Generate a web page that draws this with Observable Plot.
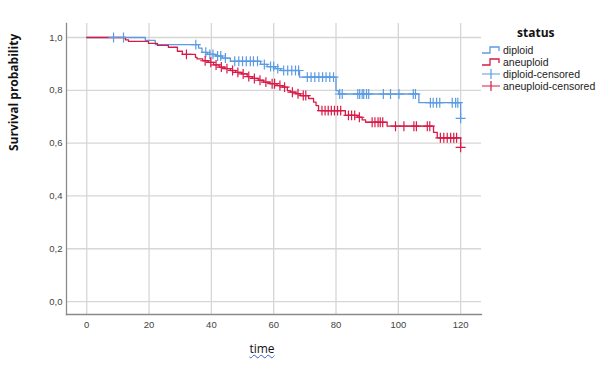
<!DOCTYPE html>
<html>
<head>
<meta charset="utf-8">
<script src="https://cdn.jsdelivr.net/npm/d3@7"></script>
<script src="https://cdn.jsdelivr.net/npm/@observablehq/plot@0.6"></script>
<style>
  html, body { margin: 0; padding: 0; background: #fff; }
  #wrap { position: relative; width: 609px; height: 372px; overflow: hidden; }
  #legend { position: absolute; left: 481px; top: 24px; font-family: "Liberation Sans", Arial, sans-serif; font-size: 10.5px; color: #222; }
  #legend .title { font-family: "Open Sans", sans-serif; font-weight: bold; font-size: 12px; margin-left: 36px; margin-bottom: 3px; color: #111; }
  #legend .row { display: flex; align-items: center; height: 12px; }
  #legend svg { margin-right: 2px; }
  #xtitle { position: absolute; left: 0; width: 524px; top: 340px; text-align: center; font-family: "Open Sans", sans-serif; font-size: 12px; color: #111; }
  #xtitle span { text-decoration-line: underline; text-decoration-style: wavy; text-decoration-color: #3a5ad8; text-decoration-thickness: 1px; }
</style>
</head>
<body>
<div id="wrap"></div>
<script>
// ---- data ----
const xTicks = [0, 20, 40, 60, 80, 100, 120];
const yTicks = [0, 0.2, 0.4, 0.6, 0.8, 1.0];

const diploidTimes = [0, 18.8, 22.0, 35.9, 37.0, 38.7, 41.3, 43.5, 46.1, 55.8, 57.9, 60.5, 62.2, 68.3, 80.0, 80.9, 106.6, 120];
const diploidSurv  = [1, .989, .973, .960, .944, .936, .930, .922, .910, .898, .890, .882, .875, .850, .799, .786, .753, .694];
const diploidCensored = [8.6, 11.8, 35.0, 38.2, 39.5, 40.5, 42.0, 43.0, 44.5, 47.5, 48.8, 50.0, 51.2, 52.5, 53.5, 54.8, 57.0, 59.0, 60.0, 61.3, 63.2, 64.5, 65.8, 67.0, 68.0, 70.8, 72.0, 73.2, 74.5, 75.7, 76.8, 78.0, 79.2, 81.2, 82.0, 87.0, 87.6, 88.4, 88.9, 89.8, 90.5, 95.2, 97.5, 100.2, 104.8, 105.5, 110.3, 111.2, 112.3, 113.3, 117.3, 118.4, 119.1, 120];

const aneuploidTimes = [0, 12.4, 13.4, 19.8, 22.7, 26.2, 29.1, 30.7, 34.9, 35.4, 37.2, 39.0, 40.7, 42.5, 44.3, 46.1, 47.8, 49.6, 51.5, 53.2, 55.0, 56.7, 58.8, 61.1, 62.8, 64.4, 65.4, 67.0, 68.6, 71.2, 72.8, 73.6, 74.4, 83.0, 86.8, 88.4, 89.5, 96.4, 111.3, 112.5, 120];
const aneuploidSurv  = [1, .991, .985, .978, .970, .963, .948, .936, .925, .919, .912, .906, .896, .888, .882, .875, .868, .862, .852, .845, .838, .831, .825, .818, .812, .799, .793, .787, .780, .769, .755, .742, .723, .705, .698, .688, .679, .664, .641, .620, .584];
const aneuploidCensored = [32.0, 38.0, 39.8, 41.5, 43.2, 45.0, 46.8, 48.5, 50.2, 52.0, 53.8, 55.6, 57.5, 59.5, 60.3, 62.0, 63.5, 66.0, 67.8, 69.5, 70.3, 75.5, 76.5, 77.5, 78.5, 79.5, 80.5, 81.5, 84.0, 85.0, 86.0, 87.5, 91.6, 92.5, 93.5, 94.2, 95.0, 99.1, 101.8, 105.0, 105.8, 109.3, 110.1, 113.5, 114.6, 115.7, 116.8, 117.8, 118.7, 120];

const blue = "#5b9be3";
const red = "#d81b47";

// ---- build tables ----
const curve = (times, surv) => times.map((t, i) => ({t, s: surv[i]}));
const survAt = (times, surv, t) => { let s = surv[0]; for (let i = 0; i < times.length; i++) if (times[i] <= t) s = surv[i]; return s; };
const cens = (ct, times, surv) => ct.map(t => ({t, s: survAt(times, surv, t)}));

const dip = curve(diploidTimes, diploidSurv);
const aneu = curve(aneuploidTimes, aneuploidSurv);
const dipC = cens(diploidCensored, diploidTimes, diploidSurv);
const aneuC = cens(aneuploidCensored, aneuploidTimes, aneuploidSurv);

const chart = Plot.plot({
  width: 609, height: 372,
  marginTop: 23, marginBottom: 58, marginLeft: 66, marginRight: 128,
  style: {fontFamily: "'Liberation Sans', Arial, sans-serif", fontSize: "9.5px", color: "#444", background: "#fff"},
  x: {domain: [-6.5, 126.7]},
  y: {domain: [-0.049, 1.053]},
  marks: [
    Plot.gridX(xTicks, {stroke: "#d6d6d6", strokeOpacity: 1, strokeWidth: 1.3}),
    Plot.gridY(yTicks, {stroke: "#d6d6d6", strokeOpacity: 1, strokeWidth: 1.3}),
    Plot.frame({anchor: "left", stroke: "#8a8a8a", strokeWidth: 1.3}),
    Plot.frame({anchor: "bottom", stroke: "#8a8a8a", strokeWidth: 1.3}),
    Plot.axisX(xTicks, {tickSize: 0, tickPadding: 7, label: null}),
    Plot.axisY(yTicks, {tickSize: 0, tickPadding: 4, label: null, tickFormat: d => d.toFixed(1).replace(".", ",")}),
    Plot.line(dip, {x: "t", y: "s", curve: "step-after", stroke: blue, strokeWidth: 1.3}),
    Plot.line(aneu, {x: "t", y: "s", curve: "step-after", stroke: red, strokeWidth: 1.3}),
    Plot.dot(dipC, {x: "t", y: "s", symbol: "plus", r: 3.3, stroke: blue, strokeWidth: 1.2}),
    Plot.dot(aneuC, {x: "t", y: "s", symbol: "plus", r: 3.3, stroke: red, strokeWidth: 1.2}),
    Plot.text(["Survival probability"], {frameAnchor: "left", rotate: -90, dx: -52, dy: -18, fontWeight: "bold", fontSize: 12, fill: "#111", fontFamily: "'Open Sans', sans-serif"})
  ]
});

const wrap = document.getElementById("wrap");
wrap.appendChild(chart);

// ---- x title (with the spell-check wavy underline seen in the reference) ----
const xt = document.createElement("div");
xt.id = "xtitle";
xt.innerHTML = "<span>time</span>";
wrap.appendChild(xt);

// ---- legend ----
const legendItems = [
  {label: "diploid", color: blue, kind: "step"},
  {label: "aneuploid", color: red, kind: "step"},
  {label: "diploid-censored", color: blue, kind: "cens"},
  {label: "aneuploid-censored", color: red, kind: "cens"}
];
const leg = document.createElement("div");
leg.id = "legend";
leg.innerHTML = `<div class="title">status</div>` + legendItems.map(d => {
  const icon = d.kind === "step"
    ? `<svg width="20" height="12"><path d="M1,9H9V3H18V7" fill="none" stroke="${d.color}" stroke-width="1.3"/></svg>`
    : `<svg width="20" height="12"><path d="M1,6H19M10,1V11" fill="none" stroke="${d.color}" stroke-width="1.2"/></svg>`;
  return `<div class="row">${icon}<span>${d.label}</span></div>`;
}).join("");
wrap.appendChild(leg);
</script>
</body>
</html>
